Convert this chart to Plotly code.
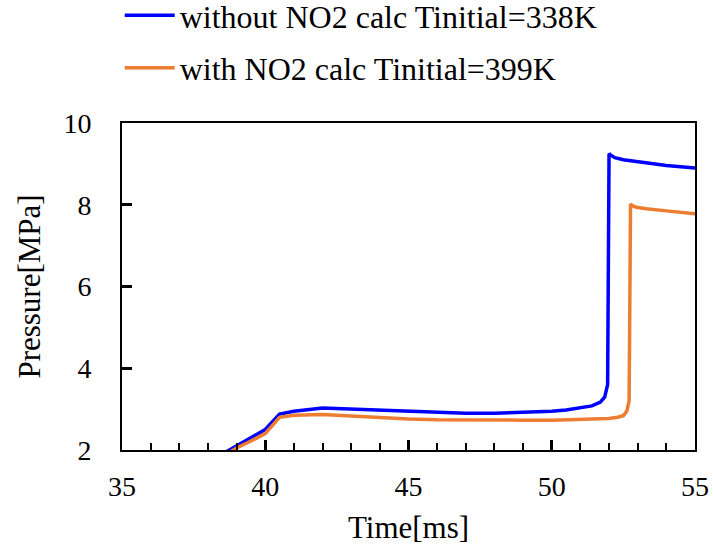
import plotly.graph_objects as go

time_blue = [38.5, 39.0, 39.5, 40.0, 40.5, 41.0, 42.0, 43.0, 44.0, 45.0, 46.0, 47.0, 48.0, 49.0, 50.0, 50.5, 51.0, 51.4, 51.7, 51.85, 51.95, 52.0, 52.05, 52.2, 52.5, 53.0, 53.5, 54.0, 54.5, 55.0]
p_blue = [1.9, 2.1, 2.3, 2.5, 2.88, 2.95, 3.03, 3.0, 2.97, 2.94, 2.92, 2.9, 2.9, 2.92, 2.95, 2.98, 3.03, 3.08, 3.17, 3.3, 3.6, 9.25, 9.22, 9.15, 9.1, 9.05, 9.0, 8.96, 8.93, 8.9]

time_orange = [38.7, 39.0, 39.5, 40.0, 40.5, 41.0, 42.0, 43.0, 44.0, 45.0, 46.0, 47.0, 48.0, 49.0, 50.0, 51.0, 51.5, 52.0, 52.3, 52.5, 52.62, 52.7, 52.75, 52.8, 52.95, 53.3, 54.0, 54.5, 55.0]
p_orange = [1.92, 2.05, 2.22, 2.4, 2.8, 2.85, 2.87, 2.83, 2.79, 2.76, 2.74, 2.73, 2.73, 2.73, 2.73, 2.74, 2.75, 2.77, 2.8, 2.84, 2.95, 3.2, 8.02, 7.98, 7.94, 7.9, 7.85, 7.81, 7.78]

fig = go.Figure()
fig.add_trace(go.Scatter(x=time_blue, y=p_blue, mode="lines", name="without NO2 calc Tinitial=338K",
                         line=dict(color="#0000FF", width=3.5), legendgroup="a"))
fig.add_trace(go.Scatter(x=time_orange, y=p_orange, mode="lines", name="with NO2 calc Tinitial=399K",
                         line=dict(color="#ED7D31", width=3.5), legendgroup="b"))

ff = "Liberation Serif"
fig.update_layout(
    width=713, height=551,
    margin=dict(l=122, r=18, t=123, b=101, autoexpand=False),
    paper_bgcolor="white", plot_bgcolor="white",
    font=dict(family=ff, color="black", size=28),
    showlegend=True,
    legend=dict(x=-0.004, y=1.413, xref="paper", yref="paper", xanchor="left", yanchor="top",
                font=dict(size=32, family=ff, color="black"), tracegroupgap=8,
                bgcolor="rgba(0,0,0,0)", itemwidth=50),
    xaxis=dict(range=[35, 55], tickmode="linear", tick0=35, dtick=5, ticks="inside", ticklen=10,
               tickwidth=2.5, tickcolor="black", showline=True, linecolor="black", linewidth=2,
               mirror=True, showgrid=False, zeroline=False,
               minor=dict(dtick=1, ticks="inside", ticklen=7, tickwidth=2, tickcolor="black", showgrid=False),
               title=dict(text="Time[ms]", font=dict(size=31, family=ff, color="black"), standoff=16),
               ticklabelstandoff=10,
               tickfont=dict(size=28, family=ff, color="black")),
    yaxis=dict(range=[2, 10], tickmode="linear", tick0=2, dtick=2, ticks="inside", ticklen=10,
               tickwidth=2.5, tickcolor="black", showline=True, linecolor="black", linewidth=2,
               mirror=True, showgrid=False, zeroline=False,
               title=dict(text="Pressure[MPa]", font=dict(size=31, family=ff, color="black"), standoff=14),
               ticklabelstandoff=23,
               tickfont=dict(size=28, family=ff, color="black")),
)
fig.write_html("out.html")
